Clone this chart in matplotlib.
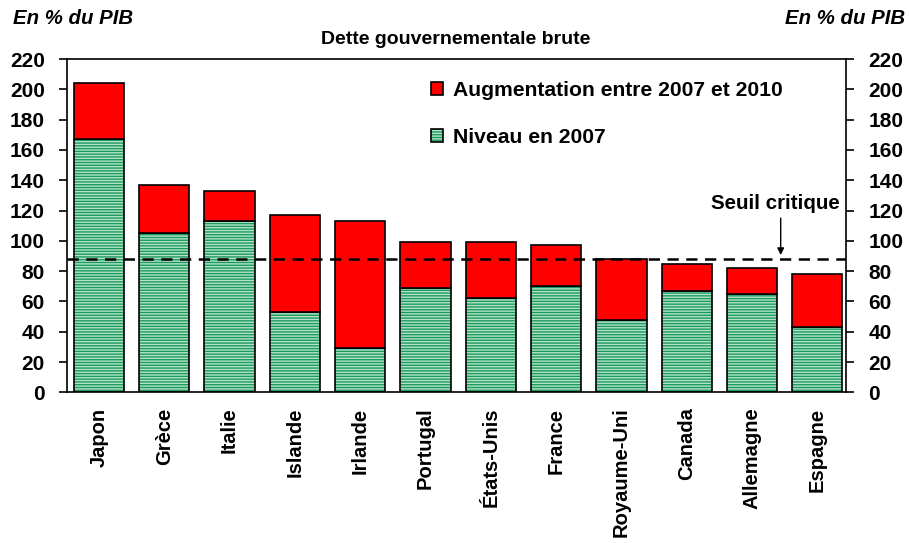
import matplotlib
matplotlib.use("Agg")
import matplotlib.pyplot as plt
import numpy as np

plt.rcParams['font.family'] = ['Liberation Sans', 'DejaVu Sans']
plt.rcParams['font.weight'] = 'bold'
plt.rcParams['hatch.linewidth'] = 1.0

countries = ["Japon", "Grèce", "Italie", "Islande", "Irlande", "Portugal",
             "États-Unis", "France", "Royaume-Uni", "Canada", "Allemagne", "Espagne"]
level_2007 = [167, 105, 113, 53, 29, 69, 62, 70, 48, 67, 65, 43]
total_2010 = [204, 137, 133, 117, 113, 99, 99, 97, 88, 85, 82, 78]
increase = [t - l for t, l in zip(total_2010, level_2007)]
threshold = 88
yticks = list(range(0, 221, 20))

fig = plt.figure(figsize=(9.09, 5.43), dpi=100)
ax = fig.add_axes([67/909, 1-392.3/543, (846-67)/909, (392.3-59)/543])

x = np.arange(len(countries))
w = 0.77
ax.bar(x, level_2007, w, facecolor='#b4e2c8', edgecolor='#000000', linewidth=1.2,
       hatch='------', label='Niveau en 2007', zorder=2)
for b in ax.containers[0]:
    b._hatch_color = matplotlib.colors.to_rgba('#1a9a5e')
ax.bar(x, increase, w, bottom=level_2007, facecolor='#ff0000', edgecolor='#000000',
       linewidth=1.2, label='Augmentation entre 2007 et 2010', zorder=2)

ax.axhline(threshold, color='black', linestyle=(0, (4.5, 3)), linewidth=1.8, zorder=3)

ax.set_xlim(-0.49, 11.44)
ax.set_ylim(0, 220)
ax.set_yticks(yticks)
ax.set_xticks(x)
ax.set_xticklabels(countries, rotation=90, fontsize=14.5, fontweight='bold', va='top', ha='center')
ax.tick_params(axis='x', length=0, pad=11)
ax.tick_params(axis='y', which='both', direction='out', length=6, width=1.2,
               labelsize=15, pad=10, left=True, right=True, labelleft=True, labelright=True)
for s in ax.spines.values():
    s.set_linewidth(1.2)

h, l = ax.get_legend_handles_labels()
leg = ax.legend(h[::-1], l[::-1], loc='upper left', bbox_to_anchor=(0.443, 0.99),
                frameon=False, handlelength=0.57, handleheight=0.57,
                handletextpad=0.45, labelspacing=1.33, prop={'weight': 'bold', 'size': 15.2})

ax.annotate('', xy=(10.44, 90.6), xytext=(10.44, 115),
            arrowprops=dict(arrowstyle='-|>', color='black', lw=1, mutation_scale=10,
                            shrinkA=0, shrinkB=0))
ax.text(10.36, 124.5, 'Seuil critique', ha='center', va='center', fontsize=14.8, fontweight='bold')

fig.text(456/909, 1-40/543, 'Dette gouvernementale brute', ha='center', va='center',
         fontsize=14, fontweight='bold')
fig.text(13/909, 1-18/543, 'En % du PIB', ha='left', va='center', fontsize=14.7,
         fontweight='bold', fontstyle='italic')
fig.text(905/909, 1-18/543, 'En % du PIB', ha='right', va='center', fontsize=14.7,
         fontweight='bold', fontstyle='italic')

fig.savefig('out.png', dpi=100)
